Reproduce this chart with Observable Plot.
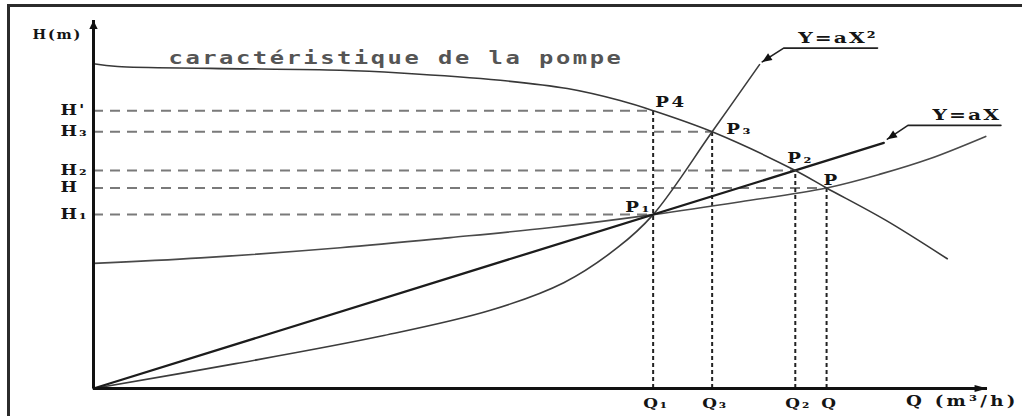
<!DOCTYPE html>
<html>
<head>
<meta charset="utf-8">
<script src="https://cdn.jsdelivr.net/npm/d3@7"></script>
<script src="https://cdn.jsdelivr.net/npm/@observablehq/plot@0.6"></script>
<style>
  html, body { margin: 0; padding: 0; background: #fff; }
  #wrap { position: relative; width: 1022px; height: 416px; overflow: hidden; }
  #wrap svg { position: absolute; left: 0; top: 0; }
  #edge { position: absolute; left: 7px; top: 4px; right: -10px; bottom: -10px;
          border-left: 3px solid #2b2b2b; border-top: 3px solid #2b2b2b; pointer-events: none; }
</style>
</head>
<body>
<div id="wrap"><div id="edge"></div></div>
<script>
// Pump characteristic H(Q)
const pumpQ = [0, 2.7, 13.1, 27.6, 34.3, 45.5, 53.0, 58.9, 62.6, 69.2, 78.5, 82.0, 88.6, 95.5];
const pumpH = [35.3, 35.0, 34.8, 34.6, 34.3, 33.5, 32.6, 31.3, 30.2, 27.9, 23.7, 21.8, 18.3, 14.1];

// Network curve Y = aX² (through the origin)
const quadQ = [0, 15.9, 32.2, 44.4, 52.6, 58.6, 62.6, 69.2, 74.5];
const quadH = [0, 2.7, 5.7, 8.5, 11.5, 15.3, 18.9, 27.9, 35.2];

// Network curve Y = aX (straight line through the origin)
const linQ = [0, 88.4];
const linH = [0, 26.7];

// Network curve with static head
const sysQ = [0, 12.0, 27.6, 39.9, 51.2, 62.6, 72.4, 82.0, 88.0, 93.6, 99.8];
const sysH = [13.6, 14.2, 15.3, 16.4, 17.5, 18.9, 20.3, 21.8, 23.3, 25.0, 27.4];

// Operating points
const pointName = ["P₁", "P4", "P₃", "P₂", "P"];
const pointQ = [62.6, 62.6, 69.2, 78.5, 82.0];
const pointH = [18.9, 30.2, 27.9, 23.7, 21.8];

// Head levels on the vertical axis and how far their guide runs
const hTickLabel = ["H'", "H₃", "H₂", "H", "H₁"];
const hTickValue = [30.2, 27.9, 23.7, 21.8, 18.9];
const hTickReach = [62.6, 69.2, 78.5, 82.0, 62.6];

// Flow rates on the horizontal axis and how high their guide runs
const qTickLabel = ["Q₁", "Q₃", "Q₂", "Q"];
const qTickValue = [62.6, 69.2, 78.5, 82.0];
const qTickReach = [30.2, 27.9, 23.7, 21.8];

// Callouts naming the two network curves: label end, elbow, arrow tip
const calloutText = ["Y=aX²", "Y=aX"];
const calloutQ = [[87.7, 77.2, 74.8], [101.5, 91.1, 88.8]];
const calloutH = [[37.0, 37.0, 35.5], [28.6, 28.6, 27.1]];

const curveTitle = "caractéristique de la pompe";
const yTitle = "H(m)";
const xTitle = "Q (m³/h)";

const rows = (qs, hs) => qs.map((q, i) => ({q, h: hs[i]}));

// filled arrowhead with its tip at the anchor, pointing up before rotation
const head = (len) => ({
  draw(ctx, size) {
    const k = Math.sqrt(size / Math.PI);
    ctx.moveTo(0, 0);
    ctx.lineTo(k, len * k);
    ctx.lineTo(-k, len * k);
    ctx.closePath();
  }
});

const serif = "'DejaVu Serif', 'Liberation Serif', serif";
const mono = "'DejaVu Sans Mono', 'Liberation Mono', monospace";
const ink = "#141414";

const labelPlace = {
  "P₁": {textAnchor: "end", dx: -1, dy: -7},
  "P4": {textAnchor: "start", dx: 2, dy: -8},
  "P₃": {textAnchor: "start", dx: 14, dy: -2},
  "P₂": {textAnchor: "start", dx: -8, dy: -12},
  "P": {textAnchor: "start", dx: -3, dy: -7}
};

const calloutTurn = [237, 236];

const plot = Plot.plot({
  width: 1022,
  height: 416,
  marginLeft: 93,
  marginRight: 35,
  marginTop: 20,
  marginBottom: 28,
  x: {domain: [0, 100], axis: null},
  y: {domain: [0, 40], axis: null},
  style: {background: "transparent", overflow: "visible", fontFamily: serif},
  marks: [
    // dashed head guides and dotted flow guides
    Plot.ruleY(hTickValue, {y: d => d, x1: () => 0, x2: (d, i) => hTickReach[i],
      stroke: "#7a7a7a", strokeWidth: 2, strokeDasharray: "10,7"}),
    Plot.ruleX(qTickValue, {x: d => d, y1: () => 0, y2: (d, i) => qTickReach[i],
      stroke: "#222", strokeWidth: 2, strokeDasharray: "4,3"}),

    // curves
    Plot.line(rows(sysQ, sysH), {x: "q", y: "h", curve: "catmull-rom", stroke: "#4a4a4a", strokeWidth: 1.6}),
    Plot.line(rows(quadQ, quadH), {x: "q", y: "h", curve: "catmull-rom", stroke: "#3c3c3c", strokeWidth: 1.6}),
    Plot.line(rows(linQ, linH), {x: "q", y: "h", stroke: "#1c1c1c", strokeWidth: 2.3}),
    Plot.line(rows(pumpQ, pumpH), {x: "q", y: "h", curve: "catmull-rom", stroke: "#383838", strokeWidth: 1.6}),

    // callout leaders
    ...calloutText.map((t, j) => Plot.line(rows(calloutQ[j], calloutH[j]), {x: "q", y: "h", stroke: "#222", strokeWidth: 1.6})),
    ...calloutText.map((t, j) => Plot.dot([j], {x: i => calloutQ[i][2], y: i => calloutH[i][2],
      symbol: head(2.4), r: 4, fill: "#111", stroke: "none", rotate: calloutTurn[j]})),

    // axes with arrowheads
    Plot.ruleX([0], {stroke: "#111", strokeWidth: 3}),
    Plot.ruleY([0], {stroke: "#111", strokeWidth: 3}),
    Plot.dot([40], {x: () => 0, y: d => d, symbol: head(2), r: 4.2, fill: "#111", stroke: "none"}),
    Plot.dot([100], {x: d => d, y: () => 0, symbol: head(3.8), r: 3.4, fill: "#111", stroke: "none", rotate: 90}),

    // texts
    Plot.text([curveTitle], {x: () => 8.4, y: () => 35.9, textAnchor: "start", fontSize: 17,
      fontFamily: mono, fontWeight: "bold", fill: "#555"}),
    Plot.text(hTickLabel, {x: () => 0, y: (d, i) => hTickValue[i], textAnchor: "start", dx: -33,
      fontSize: 14, fontWeight: "bold", fill: ink}),
    Plot.text([yTitle], {frameAnchor: "top-left", textAnchor: "start", dx: -61, dy: 10,
      fontSize: 12, fontWeight: "bold", fill: ink}),
    Plot.text(qTickLabel, {x: (d, i) => qTickValue[i], y: () => 0, dx: 3, dy: 15,
      fontSize: 13, fontWeight: "bold", fill: ink}),
    Plot.text([xTitle], {frameAnchor: "bottom-right", textAnchor: "end", dx: 31, dy: 17,
      fontSize: 14, fontWeight: "bold", fill: ink}),
    ...pointName.map((name, j) => Plot.text([j], {x: i => pointQ[i], y: i => pointH[i], text: i => pointName[i],
      fontSize: 14, fontWeight: "bold", fill: ink, ...labelPlace[name]})),
    Plot.text(calloutText, {x: (d, i) => calloutQ[i][0], y: (d, i) => calloutH[i][0], textAnchor: "end", dy: -10,
      fontSize: 15, fontWeight: "bold", fill: ink})
  ]
});

// wide typewriter lettering: stretch each text horizontally about its anchor
const stretch = new Map([[curveTitle, [1.4, 1.8]], [yTitle, [1.2, 1.5]], [xTitle, [1.3, 2.5]]]);
hTickLabel.forEach(t => stretch.set(t, [1.25, 1.5]));
qTickLabel.forEach(t => stretch.set(t, [1.3, 1.5]));
pointName.forEach(t => stretch.set(t, [1.3, 2]));
calloutText.forEach(t => stretch.set(t, [1.35, 1.5]));
plot.querySelectorAll("text").forEach(t => {
  const s = stretch.get(t.textContent);
  if (!s) return;
  const tr = t.getAttribute("transform") || "";
  t.setAttribute("transform", `${tr} scale(${s[0]},1)`);
  t.setAttribute("letter-spacing", s[1]);
});

document.getElementById("wrap").appendChild(plot);
</script>
</body>
</html>
